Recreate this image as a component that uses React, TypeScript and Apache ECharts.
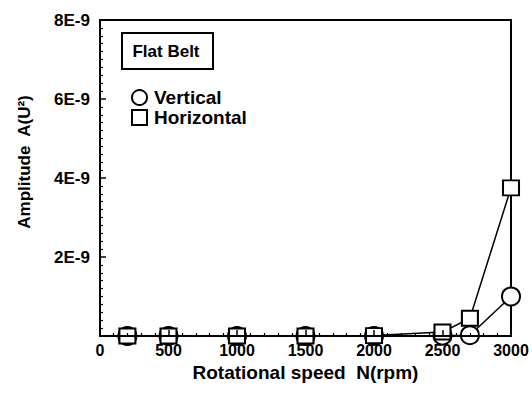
import React, { useEffect, useRef } from "react";
import * as echarts from "echarts";

const speeds = [200, 500, 1000, 1500, 2000, 2500, 2700, 3000];
const verticalAmp = [0, 0, 0, 0, 0, 0.01e-9, 0.02e-9, 1.0e-9];
const horizontalAmp = [0, 0, 0, 0, 0.01e-9, 0.1e-9, 0.45e-9, 3.75e-9];
const xTicks = [0, 500, 1000, 1500, 2000, 2500, 3000];
const yTicks = [0, 2e-9, 4e-9, 6e-9, 8e-9];

const FONT = "'Liberation Sans', Arial, sans-serif";

export default function App() {
  const ref = useRef<HTMLDivElement>(null);
  useEffect(() => {
    if (!ref.current) return;
    const chart = echarts.init(ref.current, null, { renderer: "svg" });
    const symStyle = { color: "#fff", borderColor: "#000", borderWidth: 2 };
    const xMin = xTicks[0];
    const xMax = xTicks[xTicks.length - 1];
    const yMin = yTicks[0];
    const yMax = yTicks[yTicks.length - 1];
    chart.setOption({
      animation: false,
      backgroundColor: "#fff",
      grid: { left: 100, right: 21, top: 20, bottom: 63 },
      xAxis: [
        {
          type: "value",
          position: "bottom",
          min: xMin,
          max: xMax,
          interval: 500,
          name: "Rotational speed  N(rpm)",
          nameLocation: "middle",
          nameGap: 23,
          nameTextStyle: { fontFamily: FONT, fontWeight: "bold", fontSize: 19, color: "#000" },
          axisLine: { show: true, onZero: false, lineStyle: { color: "#000", width: 2 } },
          axisTick: { show: true, inside: true, length: 6, lineStyle: { color: "#000", width: 1.5 } },
          minorTick: { show: true, splitNumber: 5, length: 3, lineStyle: { color: "#000", width: 1.2 } },
          splitLine: { show: false },
          minorSplitLine: { show: false },
          axisLabel: {
            fontFamily: FONT,
            fontWeight: "bold",
            fontSize: 16,
            color: "#000",
            margin: 6,
            formatter: (v: number) => String(v),
          },
          z: 5,
        },
        {
          type: "value",
          position: "top",
          min: xMin,
          max: xMax,
          interval: 500,
          axisLine: { show: true, onZero: false, lineStyle: { color: "#000", width: 2 } },
          axisTick: { show: false },
          axisLabel: { show: false },
          splitLine: { show: false },
        },
      ],
      yAxis: [
        {
          type: "value",
          position: "left",
          min: yMin,
          max: yMax,
          interval: 2e-9,
          axisLine: { show: true, onZero: false, lineStyle: { color: "#000", width: 2 } },
          axisTick: { show: true, inside: true, length: 6, lineStyle: { color: "#000", width: 1.5 } },
          minorTick: { show: true, splitNumber: 10, length: 3, lineStyle: { color: "#000", width: 1.2 } },
          splitLine: { show: false },
          minorSplitLine: { show: false },
          axisLabel: {
            fontFamily: FONT,
            fontWeight: "bold",
            fontSize: 17,
            color: "#000",
            margin: 10,
            formatter: (v: number) => (v === 0 ? "" : `${Math.round(v / 1e-9)}E-9`),
          },
          z: 5,
        },
        {
          type: "value",
          position: "right",
          min: yMin,
          max: yMax,
          interval: 2e-9,
          axisLine: { show: true, onZero: false, lineStyle: { color: "#000", width: 2 } },
          axisTick: { show: false },
          axisLabel: { show: false },
          splitLine: { show: false },
        },
      ],
      legend: {
        orient: "vertical",
        left: 126,
        top: 83,
        itemWidth: 15,
        itemHeight: 15,
        itemGap: 1,
        textStyle: { fontFamily: FONT, fontWeight: "bold", fontSize: 19, color: "#000", padding: [0, 0, 0, 2] },
        itemStyle: { color: "#fff", borderColor: "#000", borderWidth: 2 },
        data: [
          { name: "Vertical", icon: "circle" },
          { name: "Horizontal", icon: "rect" },
        ],
      },
      graphic: [
        {
          type: "rect",
          left: 121,
          top: 32,
          shape: { width: 91, height: 36 },
          style: { fill: "#fff", stroke: "#000", lineWidth: 2 },
        },
        {
          type: "text",
          x: 166,
          y: 51,
          style: {
            text: "Flat Belt",
            fontFamily: FONT,
            fontWeight: "bold",
            fontSize: 17,
            fill: "#000",
            align: "center",
            verticalAlign: "middle",
          },
        },
        {
          type: "text",
          x: 24,
          y: 162,
          rotation: Math.PI / 2,
          style: {
            text: "Amplitude  A(U²)",
            fontFamily: FONT,
            fontWeight: "bold",
            fontSize: 17,
            fill: "#000",
            align: "center",
            verticalAlign: "middle",
          },
        },
      ],
      series: [
        {
          name: "Horizontal",
          type: "line",
          data: speeds.map((s, i) => [s, horizontalAmp[i]]),
          symbol: "rect",
          symbolSize: [16, 15],
          itemStyle: symStyle,
          lineStyle: { color: "#000", width: 1.5 },
          z: 3,
        },
        {
          name: "Vertical",
          type: "line",
          data: speeds.map((s, i) => [s, verticalAmp[i]]),
          symbol: "circle",
          symbolSize: 18,
          itemStyle: symStyle,
          lineStyle: { color: "#000", width: 1.5 },
          z: 2,
        },
      ],
    });
    return () => chart.dispose();
  }, []);
  return <div ref={ref} style={{ position: "absolute", left: 0, top: 0, width: 532, height: 399 }} />;
}
